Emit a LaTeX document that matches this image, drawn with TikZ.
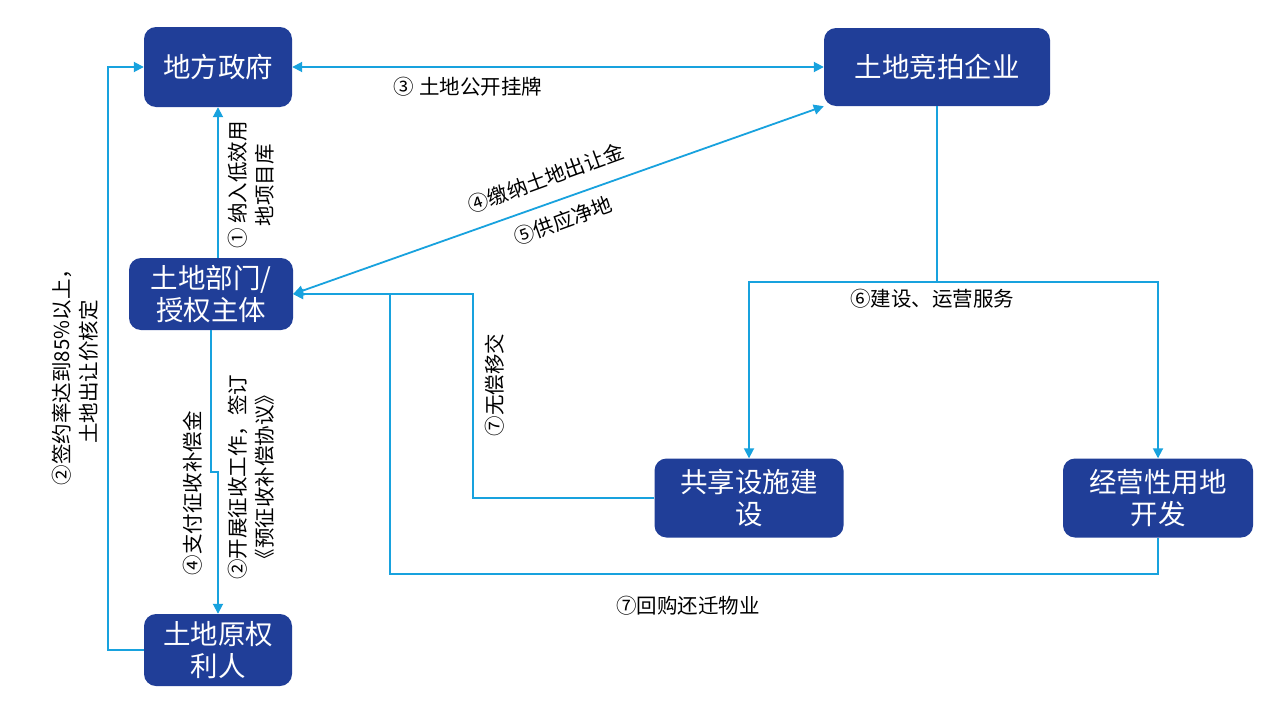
\documentclass[tikz,border=0pt]{standalone}
\usepackage{fontspec}
\setmainfont{Noto Sans CJK SC}
\usetikzlibrary{arrows.meta}
\definecolor{boxblue}{RGB}{32,62,152}
\definecolor{lineblue}{RGB}{24,162,222}
\begin{document}
\begin{tikzpicture}[x=1pt,y=-1pt,
  box/.style={fill=boxblue, rounded corners=12pt, text=white, font=\fontsize{27.5}{32}\selectfont, align=center, inner sep=0pt},
  conn/.style={draw=lineblue, line width=1.8pt},
  tip/.style={-{Triangle[length=10pt,width=10pt]}},
  tips/.style={{Triangle[length=10pt,width=10pt]}-{Triangle[length=10pt,width=10pt]}},
  lbl/.style={font=\fontsize{20.5}{27}\selectfont, align=center, text=black, inner sep=0pt}]
\useasboundingbox (0,0) rectangle (1280,720);
\fill[white] (0,0) rectangle (1280,720);
% nodes
\node[box, minimum width=148pt, minimum height=80pt] (gov) at (218,67) {地方政府};
\node[box, minimum width=226pt, minimum height=78pt] (ent) at (937,67) {土地竞拍企业};
\node[box, minimum width=164pt, minimum height=72pt] (dept) at (211,294) {土地部门/\\授权主体};
\node[box, minimum width=148pt, minimum height=72pt] (owner) at (218,650) {土地原权\\利人};
\node[box, minimum width=189pt, minimum height=79pt] (shared) at (749,498) {共享设施建\\设};
\node[box, minimum width=190pt, minimum height=79pt] (oper) at (1158,498) {经营性用地\\开发};
% connectors
\draw[conn,tips] (gov.east) -- (gov.east -| ent.west);
\draw[conn,tip] (gov.south |- dept.north) -- (gov.south);
\draw[conn,tips] (dept.east) -- (ent.south west);
\draw[conn,tip] (owner.west) -- ++(-36,0) |- (gov.west);
\draw[conn,tip] (dept.south) -- ++(0,142) -| (owner.north);
\draw[conn] (ent.south) -- ++(0,176) coordinate (split);
\draw[conn,tip] (split) -| (shared.north);
\draw[conn,tip] (split) -| (oper.north);
\draw[conn,tip] (shared.west) -- ++(-181,0) |- (dept.east);
\draw[conn,tip] (oper.south) -- ++(0,36) -| ([xshift=97pt]dept.east) -- (dept.east);
% labels
\node[lbl] (l3) at (468,87) {③ 土地公开挂牌};
\node[lbl, rotate=90] (l1) at (251,185) {① 纳入低效用\\地项目库};
\node[lbl, rotate=20] (l4) at (546,178) {④缴纳土地出让金};
\node[lbl, rotate=20] (l5) at (563,221) {⑤供应净地};
\node[lbl, rotate=90] (l2a) at (75,372) {②签约率达到85\%以上，\\土地出让价核定};
\node[lbl, rotate=90] (l4b) at (193,493) {④支付征收补偿金};
\node[lbl, rotate=90] (l2b) at (251,477) {②开展征收工作，签订\\《预征收补偿协议》};
\node[lbl, rotate=90] (l7a) at (495,385) {⑦无偿移交};
\node[lbl] (l6) at (932,299) {⑥建设、运营服务};
\node[lbl] (l7b) at (688,606) {⑦回购还迁物业};
\end{tikzpicture}
\end{document}
